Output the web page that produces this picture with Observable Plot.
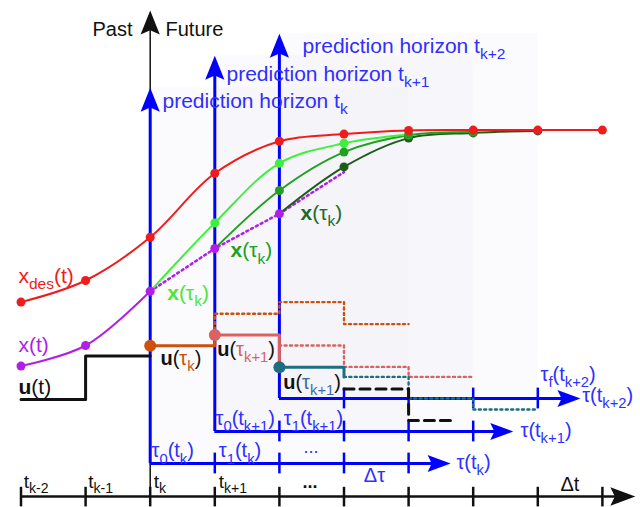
<!DOCTYPE html>
<html>
<head>
<meta charset="utf-8">
<script src="https://cdn.jsdelivr.net/npm/d3@7"></script>
<script src="https://cdn.jsdelivr.net/npm/@observablehq/plot@0.6"></script>
<style>
  body { margin: 0; background: #fff; }
  #chart svg { display: block; }
</style>
</head>
<body>
<div id="chart"></div>
<script>
// Sampling instants: 0 = t_{k-2}, 1 = t_{k-1}, 2 = t_k, 3 = t_{k+1}, ...
const steps = [0, 1, 2, 3, 4, 5, 6, 7, 8, 9];

// State trajectories (value units)
const xDesired = [48.6, 54, 64.8, 80.8, 88.8, 90.6, 91.5, 91.6, 91.6, 91.6]; // steps 0..9
const xMeasured = [32.6, 37.75, 51.3];          // steps 0..2
const xOpenLoop = [51.3, 62, 70.7, 81.1];       // steps 2..5
const xPredK = [51.3, 68.4, 83.3, 88.3, 90.5];  // steps 2..6
const xPredK1 = [62, 76.5, 86.1, 90.3, 91.1];   // steps 3..7
const xPredK2 = [70.7, 82.4, 89.6, 90.9, 91.4]; // steps 4..8

// Inputs
const uPast = [24.25, 35.1];                 // steps 0..1
const uPlanK = [37.7, 45.7, 48.6, 43.1];     // steps 2..5
const uPlanK1 = [40.4, 37.75, 32.4, 29.9];   // steps 3..6
const uPlanK2 = [32.3, 29.9, 24.5, 21.75];   // steps 4..7
const uApplied = [26.9, 19];                 // steps 5..6
const uAppliedEnd = 6.65;

// Prediction horizons (start step, top of arrow, level of the tau axis)
const horizonStart = [2, 3, 4];
const horizonLength = 4;
const horizonTop = [102.2, 110.2, 115.7];
const tauAxisLevel = [8.25, 16.25, 24.5];
const tauAxisTip = [6.65, 7.62, 8.66];
const timeAxisTip = 9.51;
const nowTip = 121.5;

// Colours
const ink = "#111111";
const blue = "#0000ff";
const blueText = "#2f2fff";
const red = "#ee1c1c";
const purple = "#b01ee8";
const lightGreen = "#3cf03c";
const midGreen = "#22a022";
const darkGreen = "#1b5e1b";
const orange = "#cc5010";
const salmon = "#d96262";
const teal = "#1c6e80";

// Text labels; markup: *bold*, _{subscript}, [#colour|accent]
const labels = [
  {x: 1.726, y: 115.25, text: "Past", color: ink, size: 20, anchor: "end"},
  {x: 2.237, y: 115.25, text: "Future", color: ink, size: 20},
  {x: 2.19, y: 97.25, text: "prediction horizon t_{k}", color: blueText, size: 21},
  {x: 3.181, y: 104, text: "prediction horizon t_{k+1}", color: blueText, size: 21},
  {x: 4.358, y: 111, text: "prediction horizon t_{k+2}", color: blueText, size: 21},
  {x: -0.039, y: 53.5, text: "x_{des}(t)", color: red, size: 21},
  {x: -0.039, y: 36.1, text: "x(t)", color: purple, size: 21},
  {x: -0.039, y: 25.7, text: "*u*(t)", color: ink, size: 21},
  {x: 2.263, y: 49.25, text: "*x*(τ_{k})", color: "#4ce63a", size: 21},
  {x: 3.243, y: 59.8, text: "*x*(τ_{k})", color: midGreen, size: 21},
  {x: 4.327, y: 69.25, text: "*x*(τ_{k})", color: "#1f6b1f", size: 21},
  {x: 2.159, y: 32.9, text: "*u*([" + orange + "|τ_{k}])", color: ink, size: 20},
  {x: 3.037, y: 35.25, text: "*u*([" + salmon + "|τ_{k+1}])", color: ink, size: 20},
  {x: 4.059, y: 27, text: "*u*([" + "#3a6ea5" + "|τ_{k+1}])", color: ink, size: 20},
  {x: 2.02, y: 9.8, text: "τ_{0}(t_{k})", color: blueText, size: 20},
  {x: 3.062, y: 9.8, text: "τ_{1}(t_{k})", color: blueText, size: 20},
  {x: 4.373, y: 11, text: "...", color: blueText, size: 18},
  {x: 5.307, y: 3.6, text: "Δτ", color: blueText, size: 20},
  {x: 6.741, y: 6.9, text: "τ(t_{k})", color: blueText, size: 20},
  {x: 3.011, y: 18, text: "τ_{0}(t_{k+1})", color: blueText, size: 20},
  {x: 4.068, y: 18, text: "τ_{1}(t_{k+1})", color: blueText, size: 20},
  {x: 7.732, y: 15, text: "τ(t_{k+1})", color: blueText, size: 20},
  {x: 8.042, y: 29, text: "τ_{f}(t_{k+2})", color: blueText, size: 20},
  {x: 8.687, y: 23.6, text: "τ(t_{k+2})", color: blueText, size: 20},
  {x: 0.043, y: 2.25, text: "t_{k-2}", color: ink, size: 19},
  {x: 1.04, y: 2.25, text: "t_{k-1}", color: ink, size: 19},
  {x: 2.056, y: 2.25, text: "t_{k}", color: ink, size: 19},
  {x: 3.062, y: 2.25, text: "t_{k+1}", color: ink, size: 19},
  {x: 4.358, y: 2.25, text: "*...*", color: ink, size: 18},
  {x: 8.351, y: 1.5, text: "Δt", color: ink, size: 20}
];

// Helpers building point lists from step-indexed values
const pts = (start, vals) => vals.map((v, n) => ({x: start + n, y: v}));
const stepPts = (start, vals) => [...pts(start, vals), {x: start + vals.length, y: vals[vals.length - 1]}];

const horizons = horizonStart.map((s, j) => ({
  start: s, end: s + horizonLength, top: horizonTop[j], level: tauAxisLevel[j], tip: tauAxisTip[j]
}));
const tickHalf = 2.6;
const tauTicks = horizons.flatMap(h =>
  d3.range(1, horizonLength + 1).map(n => ({x: h.start + n, y1: h.level - tickHalf, y2: h.level + tickHalf}))
);
const timeTicks = steps.map(i => ({x: i, y1: -2.6, y2: 2.3}));

// Input plans: first interval solid, the rest dotted
const plans = [
  {start: 2, values: uPlanK, color: orange},
  {start: 3, values: uPlanK1, color: salmon},
  {start: 4, values: uPlanK2, color: teal}
];
plans.forEach((p, j) => {
  const next = plans[j + 1];
  const end = next ? next.values[0] : p.values[1];
  p.solid = [{x: p.start, y: p.values[0]}, {x: p.start + 1, y: p.values[0]}, {x: p.start + 1, y: end}];
  p.dotted = [{x: p.start + 1, y: end}, ...stepPts(p.start + 1, p.values.slice(1))];
});
const appliedPts = [...pts(5, uApplied).flatMap((d, n) => [d, {x: d.x + 1, y: d.y}]).slice(0, 3), {x: uAppliedEnd, y: uApplied[1]}];

// Filled arrowheads, anchored at their tip
const arrowUp = {
  draw(ctx, size) {
    const r = Math.sqrt(size / Math.PI), L = 2 * r, W = 0.8 * r;
    ctx.moveTo(0, 0); ctx.lineTo(W, L); ctx.lineTo(0, 0.82 * L); ctx.lineTo(-W, L); ctx.closePath();
  }
};
const arrowRight = {
  draw(ctx, size) {
    const r = Math.sqrt(size / Math.PI), L = 2 * r, W = 0.74 * r;
    ctx.moveTo(0, 0); ctx.lineTo(-L, -W); ctx.lineTo(-0.82 * L, 0); ctx.lineTo(-L, W); ctx.closePath();
  }
};
const upHeads = [
  ...horizons.map(h => ({x: h.start, y: h.top, color: blue})),
  {x: 2, y: nowTip, color: ink}
];
const rightHeads = horizons.map(h => ({x: h.tip, y: h.level, color: blue}));

const font = "Liberation Sans, Arial, sans-serif";
const dotted = {strokeDasharray: "2,3.4", strokeWidth: 2.4};

const chart = Plot.plot({
  width: 640,
  height: 507,
  margin: 0,
  x: {domain: [-0.3173, 9.5898], axis: null},
  y: {domain: [-2.75, 124], axis: null},
  color: {type: "identity"},
  style: {fontFamily: font, background: "white"},
  marks: [
    // shaded prediction horizons
    Plot.rect(horizons, {x1: "start", x2: "end", y1: "level", y2: "top", fill: "#dcdcee", fillOpacity: 0.12}),
    // present instant
    Plot.ruleX([{x: 2, top: nowTip}], {x: "x", y1: "top", y2: () => 0, stroke: ink, strokeWidth: 1.5, insetTop: 12}),
    // horizon arrows and tau axes
    Plot.ruleX(horizons, {x: "start", y1: "top", y2: "level", stroke: blue, strokeWidth: 3, insetTop: 12}),
    Plot.ruleY(horizons, {y: "level", x1: "start", x2: "tip", stroke: blue, strokeWidth: 3, insetRight: 12}),
    Plot.ruleX(tauTicks, {x: "x", y1: "y1", y2: "y2", stroke: blue, strokeWidth: 2.5}),
    // time axis
    Plot.ruleY([{y: 0}], {y: "y", x1: () => 0, x2: () => timeAxisTip, stroke: ink, strokeWidth: 2.5, insetRight: 12}),
    Plot.ruleX(timeTicks, {x: "x", y1: "y1", y2: "y2", stroke: ink, strokeWidth: 2.5}),
    Plot.dot([{x: timeAxisTip, y: 0}], {x: "x", y: "y", symbol: arrowRight, r: 12.5, fill: ink, stroke: "none"}),

    // state trajectories
    Plot.line(pts(0, xMeasured), {x: "x", y: "y", stroke: purple, strokeWidth: 2, curve: "catmull-rom"}),
    Plot.line(pts(2, xOpenLoop), {x: "x", y: "y", stroke: purple, strokeDasharray: "2,3.4", strokeWidth: 2.5}),
    Plot.line(pts(4, xPredK2), {x: "x", y: "y", stroke: darkGreen, strokeWidth: 2, curve: "catmull-rom"}),
    Plot.line(pts(3, xPredK1), {x: "x", y: "y", stroke: midGreen, strokeWidth: 2, curve: "catmull-rom"}),
    Plot.line(pts(2, xPredK), {x: "x", y: "y", stroke: lightGreen, strokeWidth: 2, curve: "catmull-rom"}),
    Plot.line(pts(0, xDesired), {x: "x", y: "y", stroke: red, strokeWidth: 2, curve: "catmull-rom"}),

    // inputs
    Plot.line(stepPts(0, uPast), {x: "x", y: "y", stroke: ink, strokeWidth: 3, curve: "step-after"}),
    ...plans.map(p => Plot.line(p.dotted, {x: "x", y: "y", stroke: p.color, curve: "step-after", ...dotted})),
    ...plans.map(p => Plot.line(p.solid, {x: "x", y: "y", stroke: p.color, strokeWidth: 3})),
    Plot.line(appliedPts, {x: "x", y: "y", stroke: ink, strokeWidth: 3, strokeDasharray: "10,6"}),

    // sample points
    Plot.dot(pts(4, xPredK2).slice(1), {x: "x", y: "y", r: 4.5, fill: darkGreen, stroke: "none"}),
    Plot.dot(pts(2, xPredK).slice(1), {x: "x", y: "y", r: 4.5, fill: lightGreen, stroke: "none"}),
    Plot.dot(pts(3, xPredK1).slice(1), {x: "x", y: "y", r: 4.5, fill: midGreen, stroke: "none"}),
    Plot.dot(pts(0, xDesired), {x: "x", y: "y", r: 4.5, fill: red, stroke: "none"}),
    Plot.dot([...pts(0, xMeasured), ...pts(3, xOpenLoop.slice(1, 3))], {x: "x", y: "y", r: 4.5, fill: purple, stroke: "none"}),
    Plot.dot(plans, {x: "start", y: p => p.values[0], r: 6, fill: "color", stroke: "none"}),

    // arrowheads
    Plot.dot(upHeads, {x: "x", y: "y", symbol: arrowUp, r: 12, fill: "color", stroke: "none"}),
    Plot.dot(rightHeads, {x: "x", y: "y", symbol: arrowRight, r: 11.5, fill: "color", stroke: "none"}),

    // labels
    Plot.text(labels.filter(d => d.anchor !== "end"), {x: "x", y: "y", text: "text", fill: "color", fontSize: "size", textAnchor: "start", lineAnchor: "bottom"}),
    Plot.text(labels.filter(d => d.anchor === "end"), {x: "x", y: "y", text: "text", fill: "color", fontSize: "size", textAnchor: "end", lineAnchor: "bottom"})
  ]
});

// Turn the label markup into styled tspans (bold, accent colour, subscripts)
function renderRich(node, src) {
  node.textContent = "";
  let bold = false, accent = null, sub = false, shifted = false, buf = "";
  const flush = () => {
    if (!buf) return;
    const t = document.createElementNS("http://www.w3.org/2000/svg", "tspan");
    t.textContent = buf;
    if (bold) t.setAttribute("font-weight", "bold");
    if (accent) t.setAttribute("fill", accent);
    if (sub) t.setAttribute("font-size", "74%");
    if (sub !== shifted) t.setAttribute("dy", sub ? "0.42em" : "-0.31em");
    shifted = sub;
    node.appendChild(t);
    buf = "";
  };
  for (let i = 0; i < src.length; i++) {
    const c = src[i];
    if (c === "*") { flush(); bold = !bold; }
    else if (c === "[") { flush(); const j = src.indexOf("|", i); accent = src.slice(i + 1, j); i = j; }
    else if (c === "]") { flush(); accent = null; }
    else if (c === "_" && src[i + 1] === "{") { flush(); sub = true; i++; }
    else if (c === "}" && sub) { flush(); sub = false; }
    else buf += c;
  }
  flush();
}
chart.querySelectorAll("text").forEach(node => {
  const src = node.textContent;
  if (/[_*\[]/.test(src)) renderRich(node, src);
});

document.getElementById("chart").appendChild(chart);
</script>
</body>
</html>
